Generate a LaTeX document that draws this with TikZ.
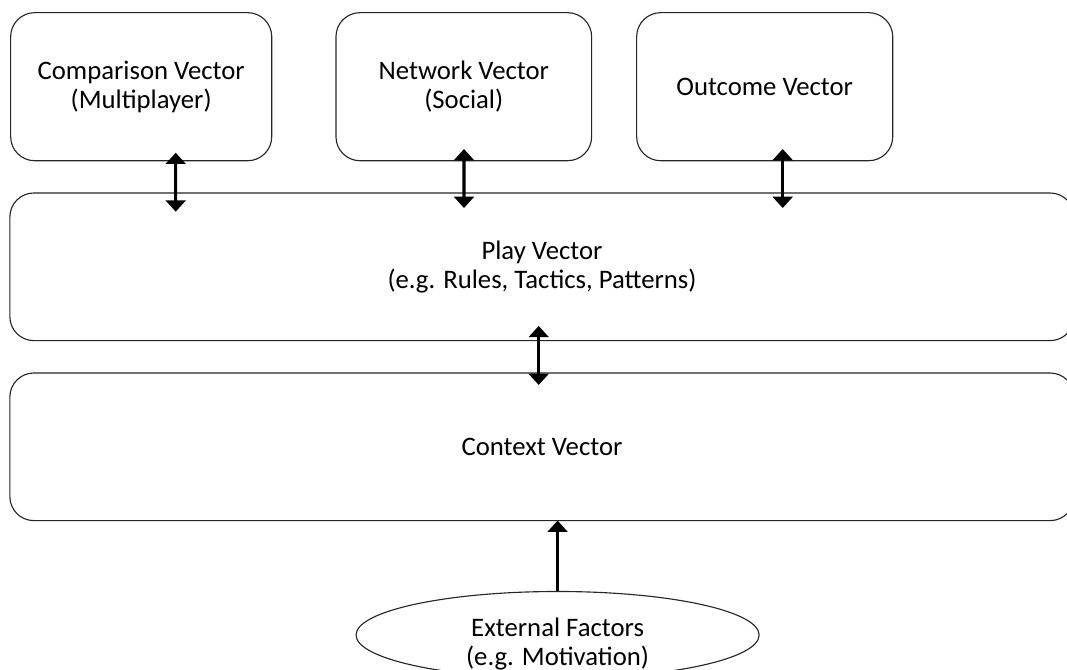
\documentclass[tikz,border=0pt]{standalone}
\usepackage{fontspec}
\setmainfont{Carlito}
\usetikzlibrary{arrows.meta,calc,shapes.geometric}
\begin{document}
\begin{tikzpicture}[x=0.025cm,y=-0.025cm,
  vbox/.style={draw=black!85,line width=0.8pt,rounded corners=0.6cm,inner sep=0pt,outer sep=0pt,
    align=center,font=\fontsize{19}{20.5}\selectfont},
  lbl/.style={align=center,font=\fontsize{19}{20}\selectfont},
  dbl/.style={line width=2.2pt,{Triangle[width=14pt,length=8pt]}-{Triangle[width=14pt,length=8pt]}},
  sgl/.style={line width=2.2pt,-{Triangle[width=14pt,length=8pt]}}]
\useasboundingbox[fill=white] (0,0) rectangle (1067,670);
\node[vbox,minimum width=6.525cm,minimum height=3.7cm] (cmp) at (141.2,86.7) {Comparison Vector\\(Multiplayer)};
\node[vbox,minimum width=6.39cm,minimum height=3.7cm] (net) at (463.8,86.7) {Network Vector\\(Social)};
\node[vbox,minimum width=6.4cm,minimum height=3.7cm] (out) at (764.7,86.7) {Outcome Vector};
\node[vbox,minimum width=26.6cm,minimum height=3.69cm] (play) at (542,266.8) {Play Vector\\(e.g. Rules, Tactics, Patterns)};
\node[vbox,minimum width=26.6cm,minimum height=3.69cm] (ctx) at (542,446.8) {Context Vector};
\node[draw=black!85,line width=0.8pt,ellipse,inner sep=0pt,outer sep=0pt,minimum width=10.075cm,minimum height=2.175cm] (ext) at (557.6,635) {};
\node[lbl] (extt) at (557.6,644) {External Factors\\(e.g. Motivation)};
\draw[dbl] ($(cmp.south)+(34.5,-8)$) -- ($(play.north)+(-366.3,18.7)$);
\draw[dbl] ($(net.south)+(0.2,-11.7)$) -- ($(play.north)+(-78,15)$);
\draw[dbl] ($(out.south)+(18,-11.7)$) -- ($(play.north)+(240.7,15)$);
\draw[dbl] ($(play.south)+(-3.3,-14.7)$) -- ($(ctx.north)+(-3.3,12)$);
\draw[sgl] (ext.north) -- (ext.north |- ctx.south);
\end{tikzpicture}
\end{document}
